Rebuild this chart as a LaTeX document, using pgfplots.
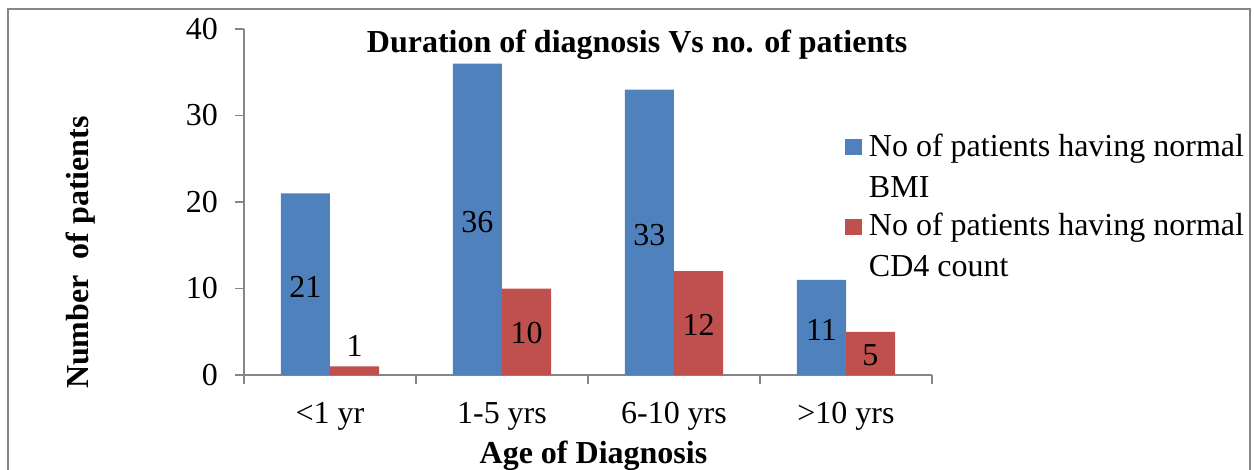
\documentclass[border=0pt]{standalone}
\usepackage{fontspec}
\setmainfont{Liberation Serif}
\usepackage{pgfplots}
\pgfplotsset{compat=1.18}
\definecolor{xlblue}{RGB}{79,129,189}
\definecolor{xlred}{RGB}{192,80,77}
\definecolor{axgray}{RGB}{134,134,134}
\newcommand\bigf{\fontsize{32}{39}\selectfont}
\pgfplotsset{sqleg/.style={legend image code/.code={\fill[##1,draw=none] (0pt,1pt) rectangle (17pt,17pt);}}}
\begin{document}
\begin{tikzpicture}
\useasboundingbox (0,0) rectangle (1254pt,469pt);
\fill[white] (0,0) rectangle (1254pt,469pt);
\draw[axgray, line width=1.2pt] (8pt,-20pt) rectangle (1250pt,460pt);
\begin{axis}[
  at={(244pt,94pt)}, anchor=south west,
  width=688pt, height=346pt, scale only axis,
  ymin=0, ymax=40, xmin=-0.5, xmax=3.5,
  ybar=0pt, bar width=49pt,
  axis x line*=bottom, axis y line*=left,
  axis line style={axgray, line width=1.2pt},
  tick style={axgray, line width=1.2pt},
  tick align=outside, major tick length=9pt,
  ytick={0,10,20,30,40},
  xtick={-0.5,0.5,1.5,2.5,3.5}, xticklabels={},
  extra x ticks={0,1,2,3},
  extra x tick labels={<1 yr,1-5 yrs,6-10 yrs,>10 yrs},
  extra x tick style={major tick length=0pt, grid=none},
  /pgf/number format/assume math mode=true,
  tick label style={font=\bigf, black},
  yticklabel style={anchor=east, inner sep=0pt, xshift=-17pt},
  xticklabel style={anchor=north, inner sep=0pt, yshift=-27pt},
  title={Duration of diagnosis Vs no. of patients},
  title style={at={(axis description cs:0.5715,0.9133)}, anchor=base, font=\bigf\bfseries},
  xlabel={Age of Diagnosis},
  xlabel style={at={(axis description cs:0.508,-0.257)}, anchor=base, font=\bigf\bfseries},
  ylabel={Number\ \ of patients},
  ylabel style={at={(axis description cs:-0.2253,0.354)}, anchor=base, font=\bigf\bfseries},
  legend cell align=left,
  legend style={at={(axis description cs:0.8735,0.7118)}, anchor=north west,
    draw=none, fill=none, inner sep=0pt, outer sep=0pt, row sep=51pt, column sep=7pt,
    cells={anchor=base west},
    nodes={anchor=base west, inner sep=0pt, font=\bigf}},
]
\addplot[fill=xlblue, draw=none, sqleg, nodes near coords,
  visualization depends on={y \as \rawy},
  every node near coord/.append style={font=\bigf, black, anchor=center, inner sep=0pt, yshift={-4.325*\rawy-2.5}}]
  coordinates {(0,21) (1,36) (2,33) (3,11)};
\addlegendentry{\begin{tabular}[t]{@{}l@{}}No of patients having normal\\[2pt]BMI\end{tabular}}
\addplot[fill=xlred, draw=none, sqleg, nodes near coords,
  visualization depends on={y \as \rawy},
  every node near coord/.append style={font=\bigf, black, anchor=center, inner sep=0pt, yshift={ifthenelse(\rawy<3,20,-4.325*\rawy-1.5)}}]
  coordinates {(0,1) (1,10) (2,12) (3,5)};
\addlegendentry{\begin{tabular}[t]{@{}l@{}}No of patients having normal\\[2pt]CD4 count\end{tabular}}
\end{axis}
\end{tikzpicture}
\end{document}
